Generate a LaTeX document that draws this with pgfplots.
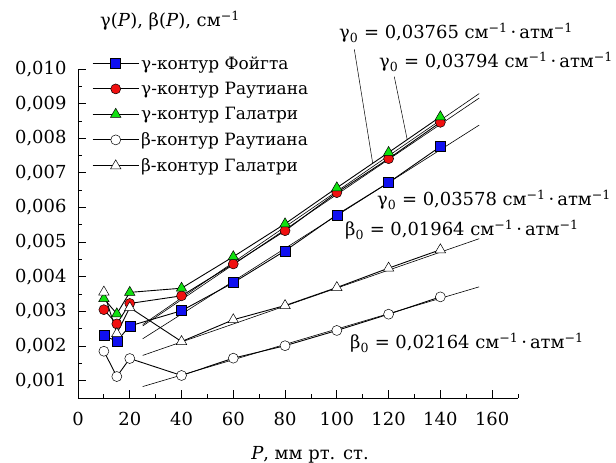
\documentclass[border=0pt]{standalone}
\usepackage{fontspec}
\setmainfont{DejaVu Serif}
\usepackage{pgfplots}
\pgfplotsset{compat=1.18}
\definecolor{mkBlue}{HTML}{1010F0}
\definecolor{mkRed}{HTML}{F01010}
\definecolor{mkGreen}{HTML}{10E010}
\newcommand{\unitsx}{см\textsuperscript{−1}\,·\,атм\textsuperscript{−1}}
\begin{document}
\begin{tikzpicture}
\useasboundingbox (-78bp,-65bp) rectangle (538bp,398bp);
\begin{axis}[
    scale only axis, width=440bp, height=329bp,
    at={(0,0)}, anchor=south west,
    xmin=0, xmax=170, ymin=0.0005, ymax=0.010,
    axis lines=left, axis line style={-, line width=0.9pt},
    tick align=inside, tick style={black, line width=0.8pt},
    major tick length=8bp, minor tick length=4bp,
    xtick={0,20,...,160}, minor xtick={10,30,...,170},
    ytick={0.001,0.002,0.003,0.004,0.005,0.006,0.007,0.008,0.009,0.010},
    minor ytick={0.0015,0.0025,0.0035,0.0045,0.0055,0.0065,0.0075,0.0085,0.0095},
    scaled y ticks=false,
    /pgf/number format/assume math mode=true,
    yticklabel style={xshift=-8bp, /pgf/number format/.cd, fixed, fixed zerofill, precision=3, use comma},
    xticklabel style={yshift=-11bp},
    ticklabel style={font=\fontsize{18}{21}\selectfont},
    clip=false,
    legend cell align=left,
    legend style={draw=none, fill=none, at={(0.032,1.045)}, anchor=north west,
        font=\fontsize{17}{20}\selectfont, row sep=7.5bp, inner sep=0pt},
    legend image code/.code={\draw[mark repeat=2, mark phase=2] plot coordinates {(0bp,0bp) (23bp,0bp) (46bp,0bp)};},
]
\addplot[black, line width=0.9pt, mark=square*, mark size=5bp, mark options={fill=mkBlue, draw=black, line width=0.5pt}] coordinates {
    (10,0.00230) (15,0.00214) (20,0.00258) (40,0.00302) (60,0.00383) (80,0.00475) (100,0.00579) (120,0.00672) (140,0.00776)};
\addlegendentry{γ-контур Фойгта}
\addplot[black, line width=0.9pt, mark=*, mark size=5bp, mark options={fill=mkRed, draw=black, line width=0.5pt}] coordinates {
    (10,0.00305) (15,0.00264) (20,0.00323) (40,0.00345) (60,0.00437) (80,0.00533) (100,0.00643) (120,0.00741) (140,0.00846)};
\addlegendentry{γ-контур Раутиана}
\addplot[black, line width=0.9pt, mark=triangle*, mark size=6bp, mark options={fill=mkGreen, draw=black, line width=0.5pt}] coordinates {
    (10,0.00337) (15,0.00293) (20,0.00355) (40,0.00367) (60,0.00458) (80,0.00553) (100,0.00657) (120,0.00759) (140,0.00862)};
\addlegendentry{γ-контур Галатри}
\addplot[black, line width=0.9pt, mark=*, mark size=5bp, mark options={fill=white, draw=black, line width=0.5pt}] coordinates {
    (10,0.00185) (15,0.00112) (20,0.00164) (40,0.00115) (60,0.00165) (80,0.00201) (100,0.00245) (120,0.00292) (140,0.00342)};
\addlegendentry{β-контур Раутиана}
\addplot[black, line width=0.9pt, mark=triangle*, mark size=6bp, mark options={fill=white, draw=black, line width=0.5pt}] coordinates {
    (10,0.00356) (15,0.00236) (20,0.00311) (40,0.00213) (60,0.00276) (80,0.00317) (100,0.00369) (120,0.00425) (140,0.00478)};
\addlegendentry{β-контур Галатри}
% linear fits
\addplot[forget plot, black, line width=0.6pt] coordinates {(25,0.00221) (155,0.00838)};
\addplot[forget plot, black, line width=0.6pt] coordinates {(25,0.00258) (155,0.00916)};
\addplot[forget plot, black, line width=0.6pt] coordinates {(25,0.00262) (155,0.00929)};
\addplot[forget plot, black, line width=0.6pt] coordinates {(25,0.00173) (155,0.00510)};
\addplot[forget plot, black, line width=0.6pt] coordinates {(25,0.00083) (155,0.00371)};
\end{axis}
\begin{scope}[every node/.style={font=\fontsize{18}{21}\selectfont, inner sep=0pt}]
\node at (92bp,377bp) {γ(\textit{P}), β(\textit{P}), см\textsuperscript{−1}};
\node at (232bp,-57bp) {\textit{P}, мм рт. ст.};
\node[anchor=west] at (261bp,365bp) {γ\textsubscript{0} = 0,03765 \unitsx};
\node[anchor=west] at (301bp,336bp) {γ\textsubscript{0} = 0,03794 \unitsx};
\node[anchor=west] at (299bp,198bp) {γ\textsubscript{0} = 0,03578 \unitsx};
\node[anchor=west] at (267bp,168bp) {β\textsubscript{0} = 0,01964 \unitsx};
\node[anchor=west] at (272bp,55bp) {β\textsubscript{0} = 0,02164 \unitsx};
\end{scope}
\draw[line width=0.5pt] (276.3bp,348.7bp) -- (294.7bp,234.7bp);
\draw[line width=0.5pt] (316.3bp,321.3bp) -- (329.3bp,258bp);
\end{tikzpicture}
\end{document}
